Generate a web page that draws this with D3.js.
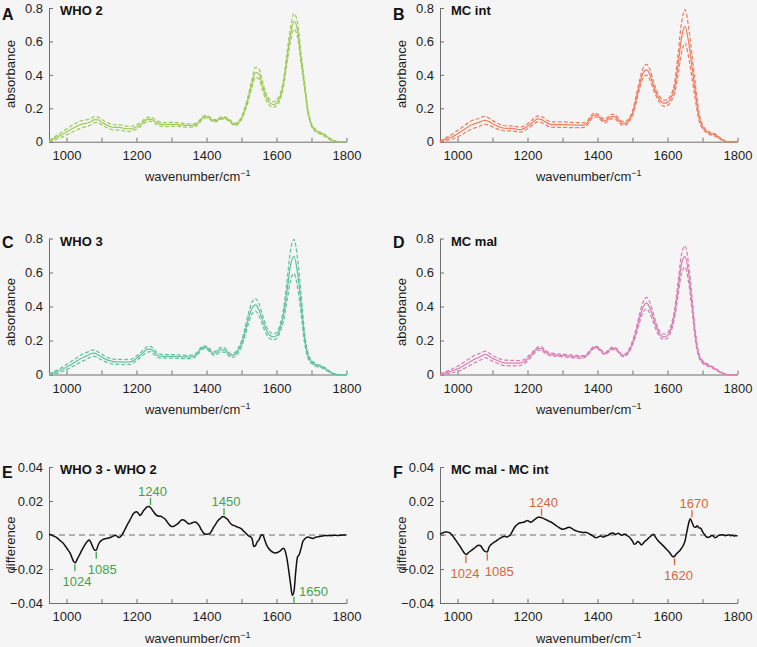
<!DOCTYPE html>
<html>
<head>
<meta charset="utf-8">
<script src="https://d3js.org/d3.v7.min.js"></script>
<style>
  body { margin: 0; background: #f5f5f5; }
  svg { display: block; font-family: "Liberation Sans", Arial, Helvetica, sans-serif; }
</style>
</head>
<body>
<div id="chart"></div>
<script>
// sampling grids, cm^-1
const wavenumbers = d3.range(950, 1801, 10);
const diffWavenumbers = d3.range(950, 1801, 5);

// mean absorbance and SD per group
const who2Mean = [
  0.005, 0.015, 0.025, 0.035, 0.045, 0.058, 0.07, 0.082, 0.093, 0.102,
  0.108, 0.112, 0.12, 0.132, 0.13, 0.118, 0.105, 0.095, 0.088, 0.085,
  0.085, 0.082, 0.078, 0.076, 0.08, 0.088, 0.1, 0.118, 0.132, 0.135,
  0.125, 0.112, 0.105, 0.102, 0.103, 0.104, 0.104, 0.102, 0.1, 0.098,
  0.097, 0.097, 0.102, 0.12, 0.145, 0.15, 0.14, 0.125, 0.128, 0.14,
  0.143, 0.135, 0.118, 0.103, 0.112, 0.14, 0.195, 0.265, 0.35, 0.415,
  0.405, 0.335, 0.27, 0.235, 0.222, 0.232, 0.265, 0.35, 0.5, 0.64,
  0.72, 0.67, 0.5, 0.34, 0.18, 0.1, 0.07, 0.055, 0.048, 0.035,
  0.02, 0.008, 0.002, 0, 0, 0
];
const who2Sd = [
  0.003, 0.006, 0.01, 0.013, 0.016, 0.018, 0.02, 0.021, 0.022, 0.022,
  0.021, 0.02, 0.019, 0.018, 0.017, 0.016, 0.016, 0.016, 0.016, 0.016,
  0.016, 0.016, 0.016, 0.015, 0.014, 0.013, 0.012, 0.012, 0.012, 0.012,
  0.012, 0.012, 0.012, 0.012, 0.012, 0.012, 0.011, 0.011, 0.011, 0.011,
  0.01, 0.01, 0.009, 0.008, 0.007, 0.007, 0.007, 0.006, 0.006, 0.006,
  0.006, 0.006, 0.006, 0.006, 0.007, 0.009, 0.012, 0.018, 0.024, 0.03,
  0.03, 0.025, 0.02, 0.018, 0.017, 0.017, 0.018, 0.02, 0.03, 0.042,
  0.046, 0.042, 0.03, 0.02, 0.012, 0.008, 0.007, 0.006, 0.006, 0.005,
  0.004, 0.003, 0.001, 0, 0, 0
];
const mcIntMean = [
  0, 0.01, 0.018, 0.025, 0.035, 0.048, 0.06, 0.075, 0.088, 0.1,
  0.108, 0.114, 0.124, 0.128, 0.12, 0.108, 0.097, 0.088, 0.082, 0.08,
  0.08, 0.078, 0.074, 0.073, 0.08, 0.092, 0.108, 0.125, 0.136, 0.132,
  0.12, 0.108, 0.103, 0.102, 0.102, 0.102, 0.102, 0.1, 0.1, 0.099,
  0.099, 0.1, 0.11, 0.14, 0.16, 0.155, 0.138, 0.124, 0.135, 0.15,
  0.148, 0.13, 0.11, 0.11, 0.13, 0.17, 0.25, 0.34, 0.41, 0.43,
  0.4, 0.335, 0.28, 0.245, 0.23, 0.235, 0.26, 0.32, 0.46, 0.62,
  0.69, 0.6, 0.45, 0.29, 0.15, 0.09, 0.065, 0.05, 0.045, 0.035,
  0.02, 0.008, 0, 0, 0, 0
];
const mcIntSd = [
  0.002, 0.006, 0.01, 0.013, 0.016, 0.019, 0.021, 0.023, 0.024, 0.025,
  0.025, 0.025, 0.024, 0.023, 0.021, 0.019, 0.017, 0.016, 0.015, 0.015,
  0.015, 0.015, 0.015, 0.015, 0.015, 0.015, 0.016, 0.017, 0.018, 0.018,
  0.017, 0.016, 0.016, 0.016, 0.016, 0.016, 0.016, 0.016, 0.015, 0.015,
  0.015, 0.014, 0.013, 0.012, 0.011, 0.01, 0.01, 0.011, 0.012, 0.013,
  0.013, 0.012, 0.011, 0.011, 0.012, 0.015, 0.02, 0.025, 0.03, 0.032,
  0.03, 0.025, 0.02, 0.018, 0.018, 0.018, 0.02, 0.03, 0.06, 0.09,
  0.1, 0.09, 0.07, 0.045, 0.025, 0.012, 0.009, 0.008, 0.007, 0.006,
  0.004, 0.003, 0, 0, 0, 0
];
const who3Mean = [
  0, 0.008, 0.015, 0.022, 0.032, 0.044, 0.055, 0.068, 0.08, 0.093,
  0.103, 0.112, 0.123, 0.126, 0.115, 0.103, 0.092, 0.083, 0.077, 0.074,
  0.074, 0.074, 0.073, 0.074, 0.08, 0.095, 0.112, 0.13, 0.148, 0.15,
  0.132, 0.115, 0.108, 0.107, 0.107, 0.107, 0.106, 0.105, 0.104, 0.103,
  0.103, 0.105, 0.115, 0.14, 0.16, 0.158, 0.14, 0.123, 0.132, 0.145,
  0.145, 0.128, 0.112, 0.115, 0.14, 0.18, 0.25, 0.33, 0.39, 0.41,
  0.38, 0.32, 0.265, 0.232, 0.222, 0.228, 0.27, 0.35, 0.49, 0.64,
  0.695, 0.6, 0.42, 0.22, 0.11, 0.075, 0.058, 0.05, 0.045, 0.033,
  0.018, 0.007, 0.001, 0, 0, 0
];
const who3Sd = [
  0.002, 0.005, 0.008, 0.011, 0.013, 0.015, 0.017, 0.018, 0.019, 0.02,
  0.021, 0.02, 0.019, 0.019, 0.018, 0.017, 0.016, 0.015, 0.015, 0.015,
  0.015, 0.015, 0.015, 0.015, 0.014, 0.014, 0.014, 0.015, 0.016, 0.016,
  0.015, 0.013, 0.012, 0.011, 0.01, 0.01, 0.01, 0.01, 0.01, 0.01,
  0.01, 0.01, 0.01, 0.009, 0.008, 0.008, 0.009, 0.01, 0.012, 0.013,
  0.013, 0.012, 0.011, 0.012, 0.014, 0.018, 0.024, 0.03, 0.035, 0.037,
  0.035, 0.03, 0.024, 0.02, 0.018, 0.018, 0.022, 0.035, 0.06, 0.09,
  0.1, 0.085, 0.06, 0.03, 0.015, 0.01, 0.008, 0.007, 0.006, 0.005,
  0.004, 0.002, 0.001, 0, 0, 0
];
const mcMalMean = [
  0, 0.006, 0.012, 0.018, 0.025, 0.033, 0.043, 0.055, 0.068, 0.08,
  0.092, 0.1, 0.11, 0.118, 0.108, 0.095, 0.085, 0.077, 0.07, 0.068,
  0.067, 0.067, 0.067, 0.068, 0.075, 0.092, 0.112, 0.135, 0.153, 0.152,
  0.135, 0.122, 0.117, 0.115, 0.113, 0.112, 0.11, 0.108, 0.106, 0.104,
  0.103, 0.104, 0.115, 0.14, 0.16, 0.158, 0.14, 0.123, 0.135, 0.153,
  0.153, 0.135, 0.113, 0.115, 0.14, 0.185, 0.25, 0.33, 0.395, 0.42,
  0.39, 0.33, 0.27, 0.232, 0.222, 0.23, 0.27, 0.355, 0.5, 0.65,
  0.695, 0.6, 0.42, 0.22, 0.11, 0.075, 0.06, 0.05, 0.04, 0.028,
  0.015, 0.005, 0, 0, 0, 0
];
const mcMalSd = [
  0.002, 0.005, 0.008, 0.011, 0.013, 0.015, 0.017, 0.019, 0.02, 0.021,
  0.022, 0.021, 0.02, 0.019, 0.018, 0.017, 0.016, 0.016, 0.016, 0.016,
  0.016, 0.016, 0.015, 0.014, 0.013, 0.012, 0.011, 0.01, 0.01, 0.01,
  0.01, 0.009, 0.009, 0.008, 0.008, 0.008, 0.008, 0.008, 0.008, 0.008,
  0.008, 0.007, 0.007, 0.006, 0.006, 0.006, 0.006, 0.006, 0.006, 0.006,
  0.006, 0.006, 0.006, 0.007, 0.009, 0.012, 0.018, 0.024, 0.03, 0.033,
  0.032, 0.026, 0.02, 0.016, 0.015, 0.015, 0.018, 0.025, 0.04, 0.055,
  0.062, 0.055, 0.04, 0.025, 0.012, 0.008, 0.007, 0.006, 0.005, 0.004,
  0.003, 0.002, 0, 0, 0, 0
];

// difference spectra
const who3MinusWho2 = [
  0.0004, 0.0002, -0.0003, -0.0008, -0.0012, -0.002, -0.003, -0.0038, -0.0047, -0.006,
  -0.0075, -0.009, -0.0105, -0.013, -0.0155, -0.0163, -0.0145, -0.0125, -0.0105, -0.0085,
  -0.0067, -0.005, -0.0037, -0.003, -0.0045, -0.007, -0.0088, -0.009, -0.0062, -0.0042,
  -0.0032, -0.0026, -0.0022, -0.002, -0.0018, -0.0015, -0.001, -0.0005, -0.0002, -0.0008,
  -0.0015, -0.0008, 0.0005, 0.0025, 0.0045, 0.0065, 0.0083, 0.0103, 0.0122, 0.0133,
  0.0137, 0.0128, 0.0115, 0.0125, 0.0143, 0.0155, 0.0165, 0.0168, 0.0162, 0.0148,
  0.0133, 0.012, 0.0113, 0.011, 0.011, 0.0103, 0.0097, 0.0085, 0.007, 0.0058,
  0.005, 0.005, 0.0055, 0.0062, 0.007, 0.0082, 0.009, 0.0088, 0.0082, 0.0072,
  0.0065, 0.0068, 0.0072, 0.0077, 0.0075, 0.0065, 0.0052, 0.0032, 0.0015, 0.0006,
  0.0004, 0.0006, 0.001, 0.0025, 0.0045, 0.006, 0.0077, 0.009, 0.0098, 0.0108,
  0.0108, 0.01, 0.0092, 0.0078, 0.0065, 0.0058, 0.0055, 0.005, 0.0045, 0.0042,
  0.0036, 0.0025, 0.0015, 0.0005, -0.0005, -0.001, -0.002, -0.0068, -0.0062, -0.004,
  -0.0028, -0.0005, 0.0003, -0.002, -0.005, -0.0072, -0.0085, -0.0095, -0.0102, -0.0106,
  -0.0105, -0.01, -0.0095, -0.0085, -0.0078, -0.0095, -0.014, -0.021, -0.0285, -0.0355,
  -0.033, -0.0215, -0.013, -0.0115, -0.008, -0.004, -0.0025, -0.0015, -0.0012, -0.0015,
  -0.0018, -0.002, -0.0015, -0.0012, -0.001, -0.0008, -0.0006, -0.0004, -0.0003, -0.0004,
  -0.0003, -0.0004, -0.0003, -0.0002, -0.0002, -0.0003, -0.0002, -0.0001, 0, 0,
  0
];
const mcMalMinusMcInt = [
  0.0004, 0.001, 0.0015, 0.0018, 0.0018, 0.0015, 0.001, -0.0002, -0.0016, -0.003,
  -0.0046, -0.006, -0.0076, -0.0092, -0.0108, -0.0115, -0.0106, -0.0097, -0.009, -0.0082,
  -0.0075, -0.0066, -0.006, -0.0062, -0.0075, -0.009, -0.0098, -0.01, -0.0072, -0.0058,
  -0.005, -0.0042, -0.0036, -0.0028, -0.0022, -0.0015, -0.001, -0.0008, -0.0012, -0.0008,
  -0.0002, 0.0015, 0.0034, 0.005, 0.006, 0.0068, 0.0072, 0.0074, 0.0075, 0.0082,
  0.0085, 0.008, 0.0075, 0.0082, 0.009, 0.0098, 0.0104, 0.0105, 0.0102, 0.0098,
  0.0093, 0.0088, 0.0083, 0.0078, 0.0073, 0.0065, 0.0058, 0.005, 0.0044, 0.0038,
  0.0034, 0.0035, 0.0039, 0.0044, 0.0045, 0.004, 0.0034, 0.0028, 0.0024, 0.002,
  0.0018, 0.0016, 0.0014, 0.0016, 0.0014, 0.0008, 0.0004, -0.0004, -0.001, -0.0016,
  -0.0014, -0.0008, -0.0006, -0.0012, -0.001, -0.0004, -0.0002, 0.0006, 0.001, 0.0012,
  0.0004, 0.0006, 0.001, 0.0002, -0.0002, 0.0005, 0.0004, -0.0004, -0.001, -0.0022,
  -0.0036, -0.0055, -0.005, -0.0038, -0.0045, -0.0058, -0.005, -0.0038, -0.003, -0.002,
  -0.001, -0.0002, 0.0004, -0.001, -0.0026, -0.0038, -0.0048, -0.0058, -0.0068, -0.008,
  -0.009, -0.0102, -0.0115, -0.0128, -0.0125, -0.0112, -0.0102, -0.0092, -0.0078, -0.0062,
  -0.0035, 0.0015, 0.0065, 0.0095, 0.0075, 0.005, 0.0045, 0.0055, 0.0042, 0.004,
  0.002, 0.0005, -0.0008, -0.0014, -0.0012, -0.0005, -0.0004, -0.0016, -0.0012, -0.0004,
  0, 0.0002, 0, -0.0004, -0.0002, 0.0002, -0.0004, -0.0002, -0.0006, -0.0004,
  -0.0004
];

// band labels on the difference spectra
const who3PeakLabels = [1024, 1085, 1240, 1450, 1650];
const mcPeakLabels = [1024, 1085, 1240, 1620, 1670];

// tick values
const xTicks = [1000, 1100, 1200, 1300, 1400, 1500, 1600, 1700, 1800];
const xTickLabels = [1000, 1200, 1400, 1600, 1800];
const absTicks = [0, 0.2, 0.4, 0.6, 0.8];
const diffTicks = [-0.04, -0.02, 0, 0.02, 0.04];

// layout
const W = 757, H = 647;
const cols = [49, 440];
const rows = [
  { top: 8, bottom: 141.7, letterY: 20, yLabelY: 74 },
  { top: 238.5, bottom: 374.5, letterY: 247.5, yLabelY: 312 },
  { top: 467, bottom: 603, letterY: 477.5, yLabelY: 545 }
];
const plotW = 297.5;
const axisColor = '#6e6e6e';
const textColor = '#1e1e1e';
const font = '"Liberation Sans", Arial, Helvetica, sans-serif';

const svg = d3.select('#chart').append('svg').attr('width', W).attr('height', H);
svg.append('rect').attr('width', W).attr('height', H).attr('fill', '#f5f5f5');

function makePanel(col, row, letter, title, yDomain, ticks, fmt, yLabel) {
  const r = rows[row];
  const plotH = r.bottom - r.top;
  const g = svg.append('g').attr('transform', `translate(${cols[col]},${r.top})`);
  const x = d3.scaleLinear().domain([950, 1800]).range([0, plotW]);
  const y = d3.scaleLinear().domain(yDomain).range([plotH, 0]);

  const gx = g.append('g')
    .attr('transform', `translate(0,${plotH})`)
    .call(d3.axisBottom(x).tickValues(xTicks).tickSize(-4).tickSizeOuter(0).tickPadding(9)
      .tickFormat(d => xTickLabels.includes(d) ? d : ''));
  const gy = g.append('g')
    .call(d3.axisLeft(y).tickValues(ticks).tickSize(-4).tickSizeOuter(0).tickPadding(6)
      .tickFormat(fmt));

  [gx, gy].forEach(a => {
    a.select('.domain').attr('stroke', axisColor).attr('stroke-width', 1);
    a.selectAll('.tick line').attr('stroke', axisColor);
    a.selectAll('text').attr('fill', textColor).style('font-size', '13px').style('font-family', font);
  });

  // axis labels
  const xl = g.append('text')
    .attr('x', plotW / 2).attr('y', plotH + 39.5)
    .attr('text-anchor', 'middle').attr('fill', textColor).style('font-size', '13px');
  xl.append('tspan').text('wavenumber/cm');
  xl.append('tspan').attr('dy', -5).style('font-size', '9px').text('−1');

  const lx = col === 0 ? 15 : 406;
  svg.append('text')
    .attr('transform', `translate(${lx},${r.yLabelY}) rotate(-90)`)
    .attr('text-anchor', 'middle').attr('fill', textColor).style('font-size', '13px')
    .text(yLabel);

  // panel letter + title
  svg.append('text')
    .attr('x', col === 0 ? 2 : 393).attr('y', r.letterY)
    .attr('fill', '#111').style('font-size', '16px').style('font-weight', 'bold')
    .text(letter);
  g.append('text')
    .attr('x', 11).attr('y', 7)
    .attr('fill', '#111').style('font-size', '13px').style('font-weight', 'bold')
    .text(title);

  return { g, x, y, plotH };
}

function drawAbsorbance(col, row, letter, title, mean, sd, color) {
  const { g, x, y } = makePanel(col, row, letter, title, [0, 0.8], absTicks,
    d => d === 0 ? '0' : d3.format('.1f')(d), 'absorbance');

  const line = d3.line()
    .x((d, i) => x(wavenumbers[i]))
    .y(d => y(d))
    .curve(d3.curveMonotoneX);

  const upper = mean.map((m, i) => m + sd[i]);
  const lower = mean.map((m, i) => m - sd[i]);

  [upper, lower].forEach(s => {
    g.append('path').datum(s).attr('d', line)
      .attr('fill', 'none').attr('stroke', color).attr('stroke-width', 1.25)
      .attr('stroke-dasharray', '4,2');
  });
  g.append('path').datum(mean).attr('d', line)
    .attr('fill', 'none').attr('stroke', color).attr('stroke-width', 1.25);
}

function drawDifference(col, row, letter, title, values, peaks, sides, dxs, color) {
  const { g, x, y, plotH } = makePanel(col, row, letter, title, [-0.04, 0.04], diffTicks,
    d => d === 0 ? '0' : d3.format('.2f')(d), 'difference');

  g.append('line')
    .attr('x1', 0).attr('x2', plotW).attr('y1', y(0)).attr('y2', y(0))
    .attr('stroke', '#6e6e6e').attr('stroke-width', 1.2).attr('stroke-dasharray', '6,4');

  const line = d3.line()
    .x((d, i) => x(diffWavenumbers[i]))
    .y(d => y(d))
    .curve(d3.curveMonotoneX);

  g.append('path').datum(values).attr('d', line)
    .attr('fill', 'none').attr('stroke', '#111').attr('stroke-width', 1.5);

  peaks.forEach((w, i) => {
    const side = sides[i];
    const near = values.filter((v, j) => Math.abs(diffWavenumbers[j] - w) <= 7);
    const ext = side === 'above' ? d3.max(near) : d3.min(near);
    const px = x(w), py = y(ext);
    const dir = side === 'above' ? -1 : 1;
    const t1 = py + dir * 1.5, t2 = py + dir * 8.5;

    g.append('line')
      .attr('x1', px).attr('x2', px).attr('y1', t1).attr('y2', t2)
      .attr('stroke', color).attr('stroke-width', 1.3);

    const t = g.append('text').attr('fill', color).style('font-size', '13px').text(w);
    if (side === 'above') {
      t.attr('x', px + dxs[i]).attr('y', t2 - 2).attr('text-anchor', 'middle');
    } else if (side === 'below') {
      t.attr('x', px + dxs[i]).attr('y', t2 + 15).attr('text-anchor', 'middle');
    } else {
      t.attr('x', px + dxs[i]).attr('y', t1 - 1).attr('text-anchor', 'start');
    }
  });
}

drawAbsorbance(0, 0, 'A', 'WHO 2', who2Mean, who2Sd, '#9fcb5a');
drawAbsorbance(1, 0, 'B', 'MC int', mcIntMean, mcIntSd, '#ef8062');
drawAbsorbance(0, 1, 'C', 'WHO 3', who3Mean, who3Sd, '#63c2a0');
drawAbsorbance(1, 1, 'D', 'MC mal', mcMalMean, mcMalSd, '#d980b4');

drawDifference(0, 2, 'E', 'WHO 3 - WHO 2', who3MinusWho2, who3PeakLabels,
  ['below', 'below', 'above', 'above', 'right'], [2, 6, 2, 2, 5], '#45a050');
drawDifference(1, 2, 'F', 'MC mal - MC int', mcMalMinusMcInt, mcPeakLabels,
  ['below', 'below', 'above', 'below', 'above'], [-1, 12, 2, 4, 2], '#d5653c');
</script>
</body>
</html>
